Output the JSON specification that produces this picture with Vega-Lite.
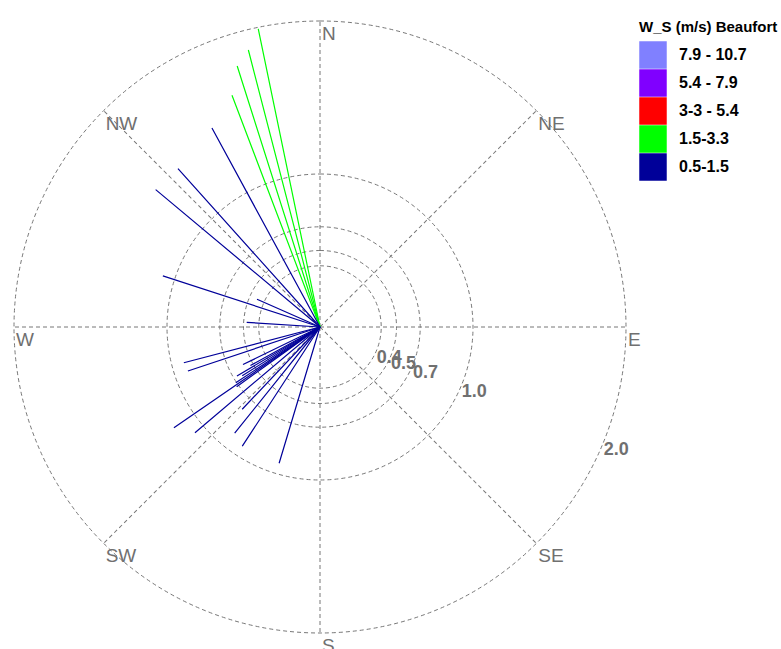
{
  "$schema": "https://vega.github.io/schema/vega-lite/v6.json",
  "width": 640,
  "height": 644,
  "autosize": {"type": "none"},
  "padding": {"left": 0, "top": 5, "right": 141, "bottom": 0},
  "background": "white",
  "config": {"view": {"stroke": null}},
  "datasets": {
    "rings": [
      {"r": 0.4, "label": "0.4"},
      {"r": 0.5, "label": "0.5"},
      {"r": 0.655, "label": "0.7"},
      {"r": 1.0, "label": "1.0"},
      {"r": 2.0, "label": "2.0"}
    ],
    "compass": [
      {"dir": 0, "name": "N"},
      {"dir": 45, "name": "NE"},
      {"dir": 90, "name": "E"},
      {"dir": 135, "name": "SE"},
      {"dir": 180, "name": "S"},
      {"dir": 225, "name": "SW"},
      {"dir": 270, "name": "W"},
      {"dir": 315, "name": "NW"}
    ],
    "wind": [
      {"dir": 348.3, "speed": 1.99, "cat": "1.5-3.3"},
      {"dir": 345.5, "speed": 1.87, "cat": "1.5-3.3"},
      {"dir": 342.4, "speed": 1.79, "cat": "1.5-3.3"},
      {"dir": 339.2, "speed": 1.62, "cat": "1.5-3.3"},
      {"dir": 331.5, "speed": 1.48, "cat": "0.5-1.5"},
      {"dir": 318.1, "speed": 1.39, "cat": "0.5-1.5"},
      {"dir": 309.9, "speed": 1.40, "cat": "0.5-1.5"},
      {"dir": 288.0, "speed": 1.08, "cat": "0.5-1.5"},
      {"dir": 293.8, "speed": 0.45, "cat": "0.5-1.5"},
      {"dir": 273.6, "speed": 0.48, "cat": "0.5-1.5"},
      {"dir": 255.3, "speed": 0.92, "cat": "0.5-1.5"},
      {"dir": 251.6, "speed": 0.91, "cat": "0.5-1.5"},
      {"dir": 244.0, "speed": 0.56, "cat": "0.5-1.5"},
      {"dir": 241.0, "speed": 0.52, "cat": "0.5-1.5"},
      {"dir": 239.5, "speed": 0.63, "cat": "0.5-1.5"},
      {"dir": 237.9, "speed": 0.60, "cat": "0.5-1.5"},
      {"dir": 236.5, "speed": 0.66, "cat": "0.5-1.5"},
      {"dir": 234.4, "speed": 0.67, "cat": "0.5-1.5"},
      {"dir": 235.4, "speed": 1.16, "cat": "0.5-1.5"},
      {"dir": 229.8, "speed": 1.07, "cat": "0.5-1.5"},
      {"dir": 223.4, "speed": 0.74, "cat": "0.5-1.5"},
      {"dir": 218.8, "speed": 0.89, "cat": "0.5-1.5"},
      {"dir": 213.1, "speed": 0.93, "cat": "0.5-1.5"},
      {"dir": 196.7, "speed": 0.93, "cat": "0.5-1.5"}
    ]
  },
  "layer": [
    {
      "data": {"name": "rings"},
      "mark": {"type": "arc", "filled": false, "theta": 0, "theta2": 6.2832, "stroke": "#777777", "strokeWidth": 1, "strokeDash": [4, 3]},
      "encoding": {
        "radius": {"field": "r", "type": "quantitative", "stack": null, "scale": {"type": "linear", "domain": [0, 2], "range": [0, 306], "zero": true}}
      }
    },
    {
      "data": {"name": "compass"},
      "mark": {"type": "point", "shape": "M0,0L0,-2", "size": 93636, "filled": false, "stroke": "#777777", "strokeWidth": 1, "strokeDash": [4, 3], "opacity": 1},
      "encoding": {
        "angle": {"field": "dir", "type": "quantitative", "scale": {"domain": [0, 360], "range": [0, 360]}}
      }
    },
    {
      "data": {"name": "wind"},
      "mark": {"type": "arc", "strokeWidth": 1.2},
      "encoding": {
        "theta": {"field": "dir", "type": "quantitative", "stack": null, "scale": {"type": "linear", "domain": [0, 360]}},
        "theta2": {"field": "dir"},
        "radius": {"field": "speed", "type": "quantitative", "stack": null, "scale": {"type": "linear", "domain": [0, 2], "range": [0, 306], "zero": true}},
        "color": {
          "field": "cat", "type": "nominal",
          "scale": {"domain": ["7.9 - 10.7", "5.4 - 7.9", "3-3 - 5.4", "1.5-3.3", "0.5-1.5"], "range": ["#8080ff", "#8000ff", "#ff0000", "#00ff00", "#000099"]},
          "legend": {
            "title": "W_S (m/s) Beaufort",
            "orient": "none", "legendX": 639, "legendY": 15,
            "padding": 0,
            "titleFont": "Liberation Sans, Arial, sans-serif", "titleFontSize": 15, "titleFontWeight": "bold", "titleColor": "#000000", "titlePadding": 6,
            "labelFont": "Liberation Sans, Arial, sans-serif", "labelFontSize": 16, "labelFontWeight": "bold", "labelColor": "#000000", "labelOffset": 12,
            "symbolType": "square", "symbolSize": 756, "symbolStrokeWidth": 0, "symbolOpacity": 1, "rowPadding": 0, "symbolOffset": 0
          }
        },
        "stroke": {
          "field": "cat", "type": "nominal",
          "scale": {"domain": ["7.9 - 10.7", "5.4 - 7.9", "3-3 - 5.4", "1.5-3.3", "0.5-1.5"], "range": ["#8080ff", "#8000ff", "#ff0000", "#00ff00", "#000099"]},
          "legend": null
        }
      }
    },
    {
      "data": {"name": "rings"},
      "mark": {"type": "text", "theta": 1.955, "align": "left", "baseline": "alphabetic", "dy": 13, "font": "Liberation Sans, Arial, sans-serif", "fontSize": 18, "fontWeight": "bold", "fill": "#707070"},
      "encoding": {
        "radius": {"field": "r", "type": "quantitative", "stack": null, "scale": {"type": "linear", "domain": [0, 2], "range": [0, 306], "zero": true}},
        "text": {"field": "label"}
      }
    },
    {
      "data": {"name": "compass"},
      "mark": {"type": "text", "align": "left", "baseline": "alphabetic", "dx": 2, "dy": 19, "font": "Liberation Sans, Arial, sans-serif", "fontSize": 19, "fill": "#707070"},
      "encoding": {
        "theta": {"field": "dir", "type": "quantitative", "stack": null, "scale": {"type": "linear", "domain": [0, 360]}},
        "radius": {"datum": 2, "type": "quantitative", "scale": {"type": "linear", "domain": [0, 2], "range": [0, 306], "zero": true}},
        "text": {"field": "name"}
      }
    }
  ]
}
